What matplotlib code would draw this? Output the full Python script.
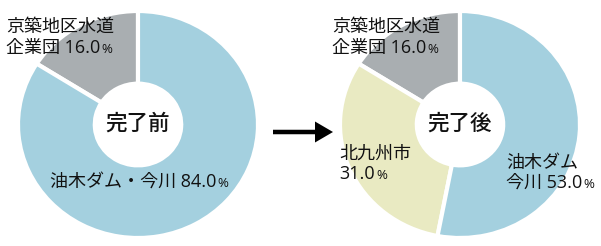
import matplotlib.pyplot as plt
from matplotlib.patches import FancyArrow

plt.rcParams['font.family'] = ['Open Sans', 'Noto Sans CJK JP', 'DejaVu Sans']

# before / after share (percent), drawn counter-clockwise from 12 o'clock
before_labels = ["京築地区水道企業団", "油木ダム・今川"]
before_values = [16.0, 84.0]
after_labels = ["京築地区水道企業団", "北九州市", "油木ダム・今川"]
after_values = [16.0, 31.0, 53.0]
colors_before = ["#a9aeb1", "#a4d0df"]
colors_after = ["#a9aeb1", "#e9eac2", "#a4d0df"]

W, H = 601, 246
fig = plt.figure(figsize=(W / 100, H / 100), dpi=100)


def donut(cx, cy, rx, ry, values, colors, center_text):
    ax = fig.add_axes([(cx - rx) / W, (H - cy - ry) / H, 2 * rx / W, 2 * ry / H])
    ax.pie(values, colors=colors, startangle=90, counterclock=True,
           radius=1.0, wedgeprops=dict(width=0.64, edgecolor="white", linewidth=3))
    ax.set_aspect("auto")
    ax.set_xlim(-1, 1)
    ax.set_ylim(-1, 1)
    ax.axis("off")
    ax.text(0, 0, center_text, ha="center", va="center", fontsize=15.5,
            fontweight="medium", color="#111111")
    return ax


donut(138, 124.5, 120, 113.5, before_values, colors_before, "完了前")
donut(460, 124.5, 120, 113.5, after_values, colors_after, "完了後")

# overlay axes in pixel coordinates for text + arrow
bg = fig.add_axes([0, 0, 1, 1])
bg.set_xlim(0, W)
bg.set_ylim(H, 0)
bg.axis("off")
bg.set_zorder(10)

FS = 13


def label(x, y, text):
    t = bg.text(x, y, text, ha="left", va="center", fontsize=FS, color="#111111")
    bg.annotate("%", xy=(1, 0.5), xycoords=t, xytext=(1, -1), textcoords="offset points",
                ha="left", va="center", fontsize=9.5, color="#111111")
    return t


txt_kw = dict(ha="left", va="center", fontsize=FS, color="#111111")

# left donut
bg.text(6, 27, "京築地区水道", **txt_kw)
label(6, 48, "企業団 %.1f" % before_values[0])
label(50, 182, "油木ダム・今川 %.1f" % before_values[1])

# right donut
bg.text(332, 27, "京築地区水道", **txt_kw)
label(332, 48, "企業団 %.1f" % after_values[0])
bg.text(339, 154, "北九州市", **txt_kw)
label(339, 174, "%.1f" % after_values[1])
bg.text(506, 163, "油木ダム", **txt_kw)
label(506, 183, "今川 %.1f" % after_values[2])

# arrow between the two donuts
bg.add_patch(FancyArrow(273, 132, 60, 0, width=4.5, head_width=21, head_length=18,
                        length_includes_head=True, color="black", lw=0))

fig.savefig("out.png", dpi=100, facecolor="white")
